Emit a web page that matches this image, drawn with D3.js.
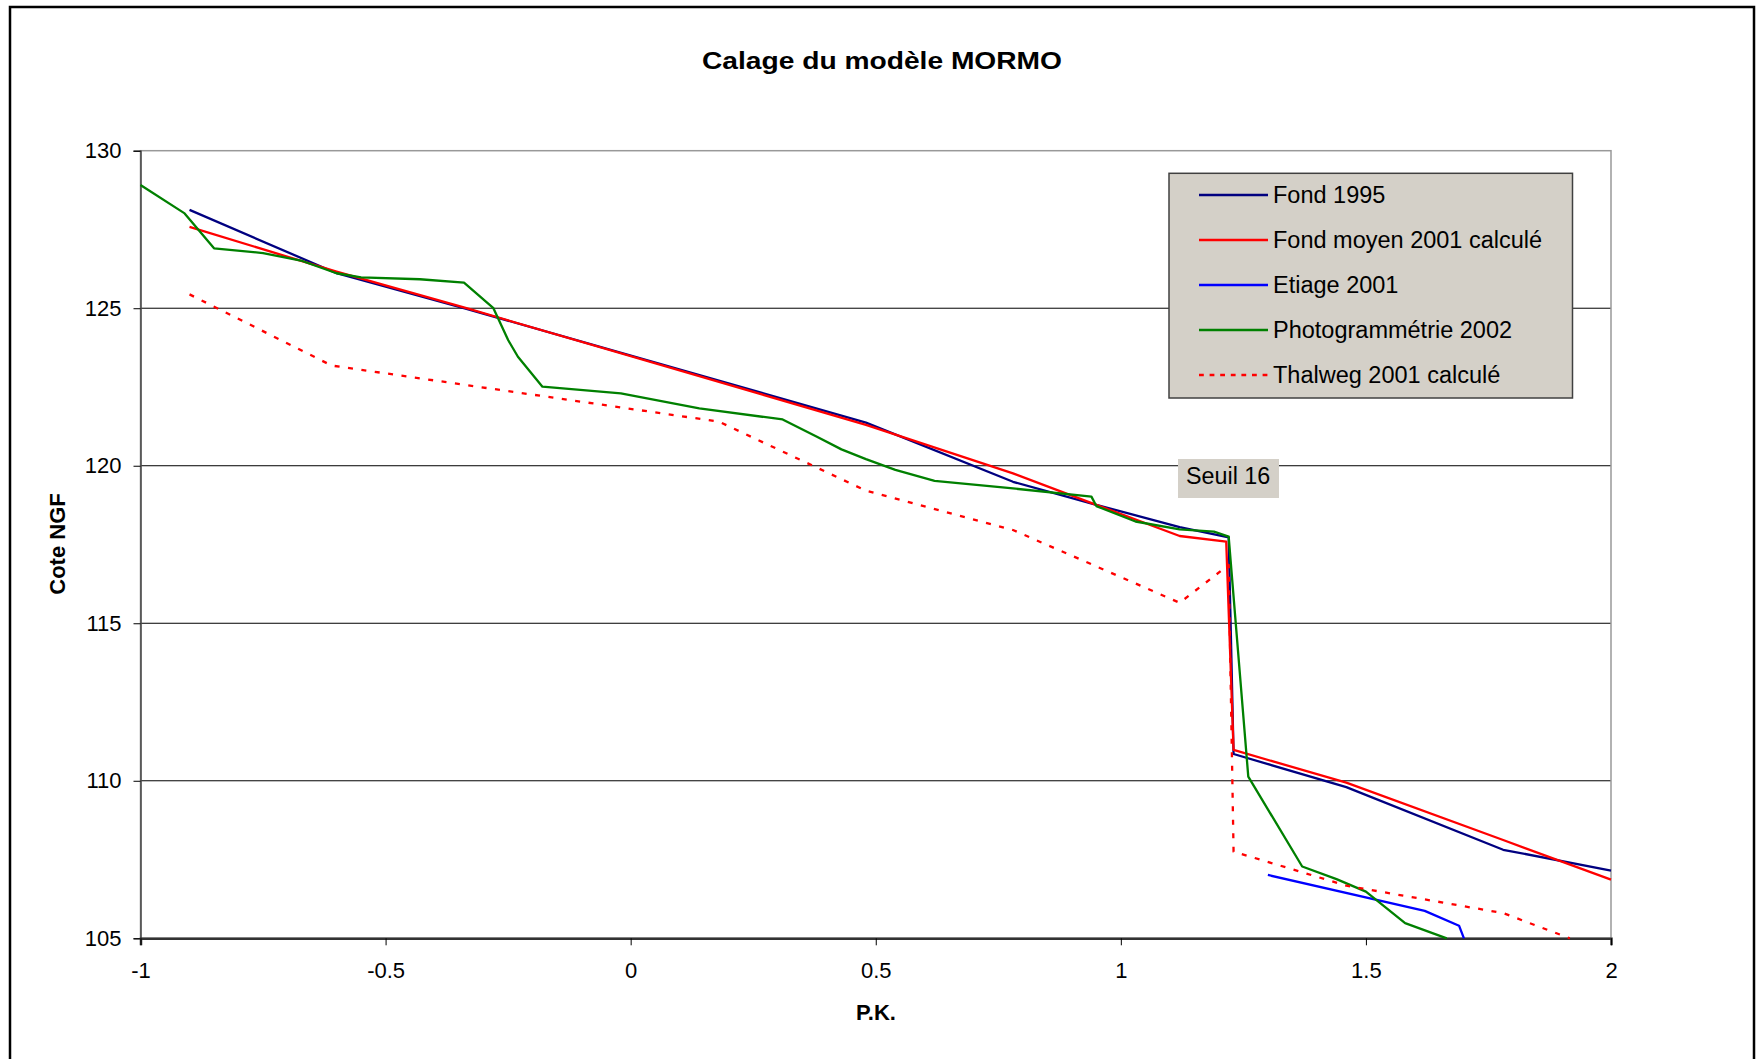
<!DOCTYPE html>
<html>
<head>
<meta charset="utf-8">
<script src="https://cdnjs.cloudflare.com/ajax/libs/d3/7.8.5/d3.min.js"></script>
<style>
  html, body { margin: 0; padding: 0; background: #fff; }
  svg { display: block; font-family: "Liberation Sans", Arial, sans-serif; }
</style>
</head>
<body>
<svg id="chart" width="1762" height="1059"></svg>
<script>
(function() {

  // profils en long, P.K. / cote NGF
  var fond1995Pk = [-0.90, -0.60, -0.335, 0.48, 0.78, 0.95, 1.12, 1.22, 1.23, 1.46, 1.78, 2.0];
  var fond1995Z  = [128.12, 126.11, 124.98, 121.37, 119.49, 118.76, 118.05, 117.73, 110.85, 109.80, 107.81, 107.15];

  var fondMoyenPk = [-0.90, -0.60, -0.335, 0.48, 0.78, 0.95, 1.12, 1.215, 1.23, 1.46, 1.78, 2.0];
  var fondMoyenZ  = [127.58, 126.16, 125.0, 121.30, 119.76, 118.76, 117.77, 117.59, 110.98, 109.94, 108.12, 106.86];

  var etiagePk = [1.30, 1.62, 1.69, 1.70];
  var etiageZ  = [107.01, 105.87, 105.40, 105.0];

  var photoPk = [-1.0, -0.91, -0.85, -0.75, -0.67, -0.60, -0.55, -0.43, -0.34, -0.28, -0.25, -0.23, -0.18,
                 -0.02, 0.14, 0.31, 0.38, 0.43, 0.48, 0.54, 0.62, 0.78, 0.94, 0.95, 1.03, 1.12, 1.19, 1.22,
                 1.26, 1.37, 1.44, 1.50, 1.58, 1.665];
  var photoZ  = [128.91, 128.01, 126.90, 126.75, 126.50, 126.11, 125.98, 125.92, 125.81, 125.0, 123.99, 123.46, 122.51,
                 122.30, 121.82, 121.47, 120.92, 120.52, 120.21, 119.87, 119.52, 119.28, 119.02, 118.72, 118.23, 117.98, 117.91, 117.75,
                 110.13, 107.28, 106.88, 106.48, 105.48, 105.0];

  var thalwegPk = [-0.90, -0.61, 0.18, 0.48, 0.78, 1.12, 1.22, 1.23, 1.365, 1.46, 1.78, 1.916];
  var thalwegZ  = [125.44, 123.18, 121.40, 119.21, 117.96, 115.65, 116.85, 107.75, 107.12, 106.67, 105.80, 105.0];

  var xTicks = [-1, -0.5, 0, 0.5, 1, 1.5, 2];
  var yTicks = [105, 110, 115, 120, 125, 130];

  var seriesNames = ['Fond 1995', 'Fond moyen 2001 calculé', 'Etiage 2001', 'Photogrammétrie 2002', 'Thalweg 2001 calculé'];

  function zip(pk, z) {
    return pk.map(function(d, i) { return {pk: d, z: z[i]}; });
  }

  var series = [
    {name: seriesNames[0], values: zip(fond1995Pk, fond1995Z), color: '#000080', dash: null},
    {name: seriesNames[1], values: zip(fondMoyenPk, fondMoyenZ), color: '#ff0000', dash: null},
    {name: seriesNames[2], values: zip(etiagePk, etiageZ), color: '#0000ff', dash: null},
    {name: seriesNames[3], values: zip(photoPk, photoZ), color: '#008000', dash: null},
    {name: seriesNames[4], values: zip(thalwegPk, thalwegZ), color: '#ff0000', dash: '5,8.5'}
  ];

  var plot = {left: 140.5, right: 1611, top: 150.7, bottom: 938.3};

  var xScale = d3.scaleLinear()
      .domain([-1, 2])
      .range([plot.left, plot.right]);

  var yScale = d3.scaleLinear()
      .domain([105, 130])
      .range([plot.bottom, plot.top]);

  var lineGenerator = d3.line()
      .x(function(d) { return xScale(d.pk); })
      .y(function(d) { return yScale(d.z); });

  var svg = d3.select('#chart');

  // cadre du graphique
  svg.append('rect')
      .attr('x', 10)
      .attr('y', 7)
      .attr('width', 1744)
      .attr('height', 1080)
      .attr('fill', '#fff')
      .attr('stroke', '#000')
      .attr('stroke-width', 2.5);

  svg.append('text')
      .attr('x', 882)
      .attr('y', 69)
      .attr('text-anchor', 'middle')
      .attr('font-size', 24)
      .attr('font-weight', 'bold')
      .attr('textLength', 360)
      .attr('lengthAdjust', 'spacingAndGlyphs')
      .text('Calage du modèle MORMO');

  // grille horizontale
  svg.append('g')
      .attr('class', 'grid')
      .selectAll('line')
      .data(yTicks.filter(function(d) { return d > 105 && d < 130; }))
    .enter().append('line')
      .attr('x1', plot.left)
      .attr('x2', plot.right)
      .attr('y1', function(d) { return yScale(d); })
      .attr('y2', function(d) { return yScale(d); })
      .attr('stroke', '#000')
      .attr('stroke-width', 1);

  // bord de la zone de traçage
  svg.append('rect')
      .attr('x', plot.left)
      .attr('y', plot.top)
      .attr('width', plot.right - plot.left)
      .attr('height', plot.bottom - plot.top)
      .attr('fill', 'none')
      .attr('stroke', '#999')
      .attr('stroke-width', 1.5);

  var yAxis = svg.append('g')
      .attr('class', 'axis y-axis')
      .attr('transform', 'translate(' + plot.left + ',0)')
      .call(d3.axisLeft(yScale)
        .tickValues(yTicks)
        .tickSize(7)
        .tickPadding(12)
        .tickFormat(function(d) { return String(d); }));

  var xAxis = svg.append('g')
      .attr('class', 'axis x-axis')
      .attr('transform', 'translate(0,' + plot.bottom + ')')
      .call(d3.axisBottom(xScale)
        .tickValues(xTicks)
        .tickSize(7)
        .tickPadding(17)
        .tickFormat(function(d) { return String(d); }));

  svg.selectAll('.axis text')
      .attr('font-family', '"Liberation Sans", Arial, sans-serif')
      .attr('font-size', 22)
      .attr('fill', '#000');

  svg.selectAll('.axis .tick line')
      .attr('stroke', '#000');

  yAxis.select('.domain')
      .attr('stroke', '#444')
      .attr('stroke-width', 1.5);

  xAxis.select('.domain')
      .attr('stroke', '#333')
      .attr('stroke-width', 2.5);

  // courbes
  svg.append('g')
      .attr('class', 'lines')
      .selectAll('path')
      .data(series)
    .enter().append('path')
      .attr('d', function(d) { return lineGenerator(d.values); })
      .attr('fill', 'none')
      .attr('stroke', function(d) { return d.color; })
      .attr('stroke-width', 2.3)
      .attr('stroke-linejoin', 'round')
      .attr('stroke-dasharray', function(d) { return d.dash; });

  // étiquette Seuil 16
  svg.append('rect')
      .attr('x', 1178)
      .attr('y', 459)
      .attr('width', 101)
      .attr('height', 39)
      .attr('fill', '#d4d0c8');

  svg.append('text')
      .attr('x', 1186)
      .attr('y', 483.5)
      .attr('font-size', 23.3)
      .text('Seuil 16');

  // légende
  var legend = svg.append('g')
      .attr('class', 'legend');

  legend.append('rect')
      .attr('x', 1169)
      .attr('y', 173.3)
      .attr('width', 403.5)
      .attr('height', 224.7)
      .attr('fill', '#d4d0c8')
      .attr('stroke', '#404040')
      .attr('stroke-width', 1.5);

  var item = legend.selectAll('.item')
      .data(series)
    .enter().append('g')
      .attr('class', 'item')
      .attr('transform', function(d, i) { return 'translate(0,' + (195 + i * 45) + ')'; });

  item.append('line')
      .attr('x1', 1199)
      .attr('x2', 1268)
      .attr('stroke', function(d) { return d.color; })
      .attr('stroke-width', 2.3)
      .attr('stroke-dasharray', function(d) { return d.dash ? '4.8,5.8' : null; });

  item.append('text')
      .attr('x', 1273)
      .attr('dy', '0.36em')
      .attr('font-size', 23.5)
      .text(function(d) { return d.name; });

  // titres des axes
  svg.append('text')
      .attr('x', 876)
      .attr('y', 1020)
      .attr('text-anchor', 'middle')
      .attr('font-size', 22)
      .attr('font-weight', 'bold')
      .text('P.K.');

  svg.append('text')
      .attr('transform', 'translate(65,544) rotate(-90)')
      .attr('text-anchor', 'middle')
      .attr('font-size', 22)
      .attr('font-weight', 'bold')
      .text('Cote NGF');

})()
</script>
</body>
</html>
